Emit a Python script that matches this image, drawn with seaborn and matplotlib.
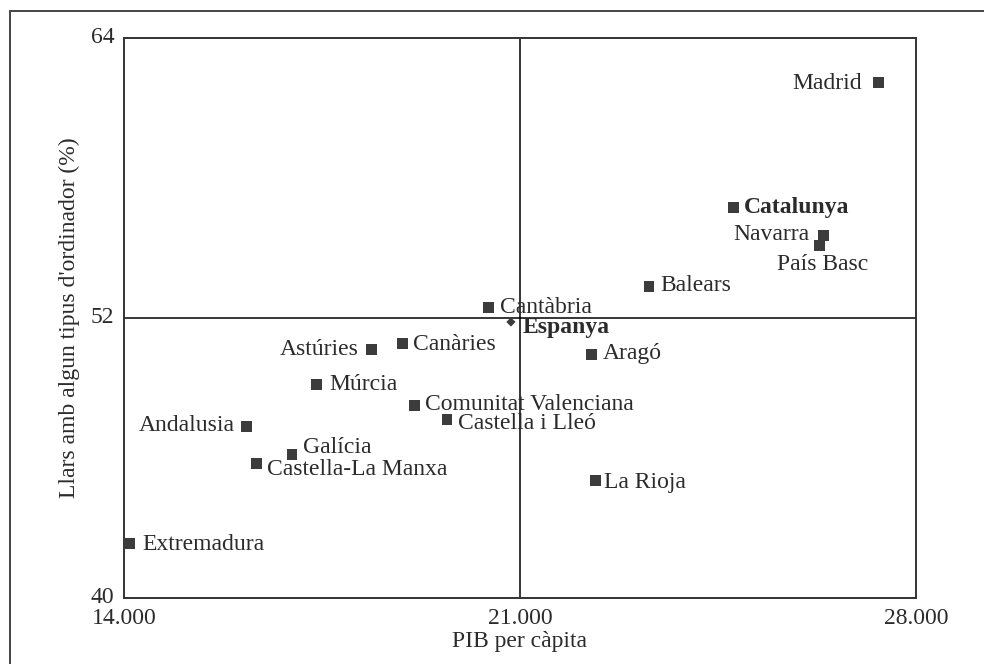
import matplotlib.pyplot as plt
import matplotlib.lines as mlines
import matplotlib.transforms as mtransforms
import numpy as np
import pandas as pd
import seaborn as sns

# PIB per capita vs households with some kind of computer (%)
regions = ["Madrid", "Catalunya", "Navarra", "País Basc", "Balears", "Cantàbria",
           "Aragó", "Astúries", "Canàries", "Múrcia", "Comunitat Valenciana",
           "Castella i Lleó", "Andalusia", "Galícia", "Castella-La Manxa",
           "La Rioja", "Extremadura"]
pib = [27330, 24770, 26370, 26300, 23280, 20450,
       22270, 18380, 18930, 17410, 19140,
       19710, 16170, 16970, 16350,
       22330, 14090]
ordinador = [62.1, 56.75, 55.55, 55.1, 53.35, 52.45,
             50.45, 50.65, 50.9, 49.15, 48.25,
             47.65, 47.35, 46.15, 45.75,
             45.05, 42.35]

spain_pib = 20840
spain_ord = 51.83

x_ticks = [14000, 21000, 28000]
x_ticklabels = ["14.000", "21.000", "28.000"]
y_ticks = [40, 52, 64]

# label placement: (dx px, dy px, ha)
placement = {
    "Madrid": (-16, -1, "right"),
    "Catalunya": (11, 0, "left"),
    "Navarra": (-14, 1, "right"),
    "País Basc": (3, -19, "center"),
    "Balears": (11, 1, "left"),
    "Cantàbria": (11, 0, "left"),
    "Aragó": (11, 1, "left"),
    "Astúries": (-13, 0, "right"),
    "Canàries": (10, -1, "left"),
    "Múrcia": (12, 0, "left"),
    "Comunitat Valenciana": (10, 1, "left"),
    "Castella i Lleó": (11, -4, "left"),
    "Andalusia": (-12, 1, "right"),
    "Galícia": (11, 7, "left"),
    "Castella-La Manxa": (10, -6, "left"),
    "La Rioja": (9, -2, "left"),
    "Extremadura": (13, -1, "left"),
}
bold = {"Catalunya"}

sns.set_style("white")
plt.rcParams["font.family"] = ["Liberation Serif", "DejaVu Serif"]

ink = "#2b2b2b"
marker_col = "#3c3c3c"

fig = plt.figure(figsize=(9.84, 6.64), dpi=100)
ax = fig.add_axes([124 / 984, 66 / 664, 792 / 984, 560 / 664])

df = pd.DataFrame({"pib": pib, "ord": ordinador, "region": regions})
sns.scatterplot(data=df, x="pib", y="ord", marker="s", s=62, color=marker_col,
                edgecolor="none", ax=ax, zorder=3)
ax.scatter([spain_pib], [spain_ord], marker="D", s=22, color=marker_col,
           edgecolor="none", zorder=3)

ax.axvline(21000, color="black", lw=1.1, zorder=1)
ax.axhline(52, color="black", lw=1.1, zorder=1)

px = 0.72
for name, xv, yv in zip(regions, pib, ordinador):
    dx, dy, ha = placement[name]
    ax.annotate(name, (xv, yv), xytext=(dx * px, dy * px), textcoords="offset points",
                ha=ha, va="center", fontsize=17, color=ink,
                fontweight="bold" if name in bold else "normal")
ax.annotate("Espanya", (spain_pib, spain_ord), xytext=(12 * px, -6 * px),
            textcoords="offset points", ha="left", va="center", fontsize=17,
            color=ink, fontweight="bold")

ax.set_xlim(14000, 28000)
ax.set_ylim(40, 64)
ax.set_xticks(x_ticks)
ax.set_xticklabels(x_ticklabels)
ax.set_yticks(y_ticks)
ax.tick_params(axis="both", length=0, labelsize=17, colors=ink, pad=7)
ax.set_xlabel("PIB per càpita", fontsize=17, color=ink, labelpad=2)
ax.set_ylabel("Llars amb algun tipus d'ordinador (%)", fontsize=17, color=ink, labelpad=8)

# lift the y tick labels a touch, as in the original
lift = mtransforms.ScaledTranslation(0, 3 / 100, fig.dpi_scale_trans)
for lbl in ax.get_yticklabels():
    lbl.set_transform(lbl.get_transform() + lift)

for sp in ax.spines.values():
    sp.set_visible(True)
    sp.set_color("#333333")
    sp.set_linewidth(1.4)

# outer frame (top and left edges visible)
fig.add_artist(mlines.Line2D([10 / 984, 1.0], [1 - 11 / 664, 1 - 11 / 664],
                             transform=fig.transFigure, color="#444444", lw=1.4))
fig.add_artist(mlines.Line2D([10 / 984, 10 / 984], [0.0, 1 - 11 / 664],
                             transform=fig.transFigure, color="#444444", lw=1.4))

plt.savefig("out.png", dpi=100)
